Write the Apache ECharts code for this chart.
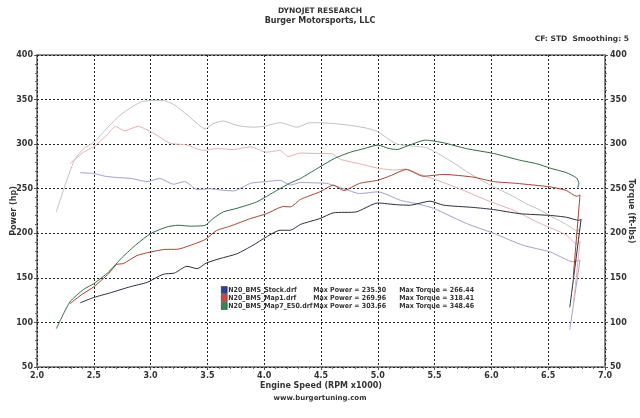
<!DOCTYPE html>
<html>
<head>
<meta charset="utf-8">
<script src="https://cdn.jsdelivr.net/npm/echarts@6/dist/echarts.min.js"></script>
<style>html,body{margin:0;padding:0;background:#fff;}#c{width:640px;height:418px;}</style>
</head>
<body>
<div id="c"></div>
<script>
// ---- data (rpm x1000, value) ----
const runNames = ['N20_BMS_Stock.drf', 'N20_BMS_Map1.drf', 'N20_BMS_Map7_E50.drf'];
const maxPower = [235.30, 269.96, 303.66];
const maxTorque = [266.44, 318.41, 348.46];
const xTicks = [2.0, 2.5, 3.0, 3.5, 4.0, 4.5, 5.0, 5.5, 6.0, 6.5, 7.0];
const yTicks = [50, 100, 150, 200, 250, 300, 350, 400];

const stockPower = [[2.38,122],[2.50,128],[2.64,133],[2.82,140],[2.97,145],[3.11,154],[3.21,155.4],[3.32,163],[3.41,160.3],[3.49,166.6],[3.61,171.6],[3.76,177],[3.90,186.5],[4.02,196],[4.14,203.4],[4.23,203.4],[4.32,210],[4.49,216.5],[4.61,223],[4.81,224],[5.00,234],[5.17,232],[5.28,231.5],[5.46,236],[5.58,231.5],[5.84,229],[6.02,226.6],[6.25,222],[6.52,220],[6.66,218],[6.77,214.5],[6.79,216],[6.69,117]];
const map1Power = [[2.29,121],[2.38,130],[2.50,140],[2.63,154.7],[2.70,165],[2.76,166],[2.88,175],[3.00,179],[3.14,182],[3.23,182],[3.35,186.5],[3.48,193],[3.58,203],[3.70,208],[3.88,216.5],[4.02,222],[4.17,230],[4.23,229.6],[4.32,238],[4.49,246.5],[4.61,254],[4.70,248],[4.84,256],[5.00,259.5],[5.12,265],[5.25,271.6],[5.40,264],[5.58,266],[5.84,263],[6.02,258],[6.22,256],[6.52,252],[6.66,248],[6.75,241.5],[6.78,243],[6.72,150]];
const map7Power = [[2.17,93],[2.29,123],[2.41,137],[2.50,143.5],[2.63,156.5],[2.75,173],[2.88,188],[3.00,199.6],[3.14,207],[3.24,209],[3.35,208],[3.48,209],[3.55,216.5],[3.64,224],[3.76,228],[3.93,235],[4.11,248],[4.23,256.5],[4.32,261.5],[4.49,274.5],[4.62,284],[4.76,291],[4.88,295],[5.00,299],[5.10,295],[5.17,294],[5.28,299],[5.42,304.5],[5.58,301.5],[5.78,295],[6.02,289.5],[6.25,282],[6.40,278],[6.52,273],[6.66,268],[6.75,262],[6.77,256],[6.76,251]];
const stockTorque = [[2.38,268],[2.50,267],[2.60,264],[2.70,262.6],[2.83,261.5],[2.97,258],[3.08,261.5],[3.20,255],[3.30,258],[3.41,249],[3.52,250],[3.62,248.5],[3.73,247.5],[3.88,256],[4.02,258],[4.14,259.5],[4.23,254],[4.32,257],[4.45,256.5],[4.55,256],[4.70,250],[4.84,244.6],[5.00,246.5],[5.20,237],[5.35,233],[5.49,228],[5.78,211],[6.02,200],[6.28,186.5],[6.52,179],[6.72,168],[6.78,170],[6.69,92]];
const map1Torque = [[2.29,278],[2.41,291],[2.50,297],[2.63,312],[2.69,320],[2.77,315],[2.89,320],[3.00,314],[3.08,308],[3.17,301],[3.32,299],[3.46,293],[3.58,295],[3.73,294],[3.88,297],[4.02,291],[4.14,293],[4.21,286],[4.32,290],[4.49,289.5],[4.59,289.5],[4.67,283],[4.84,278],[5.00,273],[5.14,271],[5.25,272],[5.37,266],[5.49,261],[5.72,250],[5.96,237],[6.19,226],[6.43,211],[6.66,198],[6.75,188],[6.78,191],[6.72,118]];
const map7Torque = [[2.17,224],[2.25,255],[2.33,282],[2.41,295],[2.50,302],[2.61,317],[2.70,329],[2.79,338],[2.91,347],[3.00,349],[3.11,349],[3.21,344],[3.32,333],[3.41,323],[3.48,317],[3.55,323],[3.64,326],[3.76,321],[3.90,319],[4.00,320],[4.14,324],[4.29,319],[4.40,324],[4.49,324],[4.62,323],[4.76,321],[4.90,318],[5.00,314],[5.08,307],[5.17,300],[5.30,298],[5.43,296],[5.55,288],[5.68,278],[5.81,267],[6.02,252],[6.17,243],[6.31,233],[6.43,226],[6.54,218],[6.66,210],[6.75,203],[6.77,205],[6.74,196]];

const powerColors = ['#2c2c3e', '#a4432e', '#2f6b42'];
const torqueColors = ['#a0a0cf', '#e6b0b0', '#bcc4c0'];
const iconColors = ['#2e3f96', '#d04444', '#2e8a55'];

const FONT = 'DejaVu Sans';
const chart = echarts.init(document.getElementById('c'), null, {renderer: 'canvas'});

const powerSets = [stockPower, map1Power, map7Power];
const torqueSets = [stockTorque, map1Torque, map7Torque];
const series = [];
torqueSets.forEach((d, i) => series.push({
  name: runNames[i] + ' torque', type: 'line', yAxisIndex: 1, data: d,
  showSymbol: false, smooth: 0.2, lineStyle: {width: 1, color: torqueColors[i]},
  itemStyle: {color: torqueColors[i]}, z: 2
}));
powerSets.forEach((d, i) => series.push({
  name: runNames[i], type: 'line', yAxisIndex: 0, data: d,
  showSymbol: false, smooth: 0.2, lineStyle: {width: 1, color: powerColors[i]},
  itemStyle: {color: powerColors[i]}, z: 3
}));

const axisLabelStyle = {fontFamily: FONT, fontSize: 8, fontWeight: 'bold', color: '#333'};
const yAxisCommon = {
  type: 'value', min: yTicks[0], max: yTicks[yTicks.length - 1], interval: 50,
  axisLine: {show: false},
  axisTick: {show: true, length: 3, lineStyle: {color: '#555'}},
  minorTick: {show: true, splitNumber: 5, length: 2, lineStyle: {color: '#666'}},
  splitLine: {show: true, lineStyle: {color: '#222', type: [2, 2], width: 1}},
  nameLocation: 'middle', nameMoveOverlap: false,
  nameTextStyle: {fontFamily: FONT, fontSize: 8, fontWeight: 'bold', color: '#333'}
};
const legendText = {fontFamily: 'DejaVu Sans Condensed', fontSize: 7, fontWeight: 'bold', color: '#333', lineHeight: 8};

chart.setOption({
  animation: false,
  backgroundColor: '#fff',
  title: [
    {text: 'DYNOJET RESEARCH', subtext: 'Burger Motorsports, LLC', left: 'center', top: 2, itemGap: 2,
     textStyle: {fontFamily: FONT, fontSize: 7.5, fontWeight: 'bold', color: '#333'},
     subtextStyle: {fontFamily: FONT, fontSize: 8, fontWeight: 'bold', color: '#333'}},
    {text: 'CF: STD  Smoothing: 5', right: 6, top: 30,
     textStyle: {fontFamily: FONT, fontSize: 7.5, fontWeight: 'bold', color: '#333'}},
    {text: 'www.burgertuning.com', left: 'center', top: 390,
     textStyle: {fontFamily: FONT, fontSize: 7, fontWeight: 'bold', color: '#333'}}
  ],
  grid: {left: 37, right: 35, top: 55, bottom: 51, containLabel: false, outerBoundsMode: 'none',
         show: true, borderColor: '#8c8c8c', borderWidth: 2},
  legend: {
    orient: 'vertical', left: 216, top: 281, itemGap: 0, itemWidth: 6, itemHeight: 7,
    selectedMode: false,
    data: runNames.map((n, i) => ({name: n, icon: 'rect',
      itemStyle: {color: iconColors[i], borderColor: '#222', borderWidth: 0.5}})),
    formatter: function (name) {
      const i = runNames.indexOf(name);
      return '{a|' + runNames[i] + '}{b|Max Power = ' + maxPower[i].toFixed(2) + '}{c|Max Torque = ' + maxTorque[i].toFixed(2) + '}';
    },
    textStyle: Object.assign({padding: [0, 0, 0, -4], rich: {
      a: Object.assign({width: 85}, legendText),
      b: Object.assign({width: 86}, legendText),
      c: Object.assign({}, legendText)
    }}, legendText)
  },
  xAxis: {
    type: 'value', min: xTicks[0], max: xTicks[xTicks.length - 1], interval: 0.5,
    axisLine: {show: false},
    axisTick: {show: true, length: 3, lineStyle: {color: '#555'}},
    minorTick: {show: true, splitNumber: 5, length: 2, lineStyle: {color: '#666'}},
    splitLine: {show: true, lineStyle: {color: '#222', type: [2, 2], width: 1}},
    axisLabel: Object.assign({margin: 5, formatter: v => v.toFixed(1)}, axisLabelStyle),
    name: 'Engine Speed (RPM x1000)', nameLocation: 'middle', nameGap: 15, nameMoveOverlap: false,
    nameTextStyle: {fontFamily: FONT, fontSize: 8, fontWeight: 'bold', color: '#333'}
  },
  yAxis: [
    Object.assign({}, yAxisCommon, {position: 'left', name: 'Power (hp)', nameRotate: 90, nameGap: 19,
      axisLabel: Object.assign({margin: 4}, axisLabelStyle)}),
    Object.assign({}, yAxisCommon, {position: 'right', name: 'Torque (ft-lbs)', nameRotate: -90, nameGap: 22,
      splitLine: {show: false},
      axisLabel: Object.assign({margin: 5}, axisLabelStyle)})
  ],
  series: series
});
</script>
</body>
</html>
